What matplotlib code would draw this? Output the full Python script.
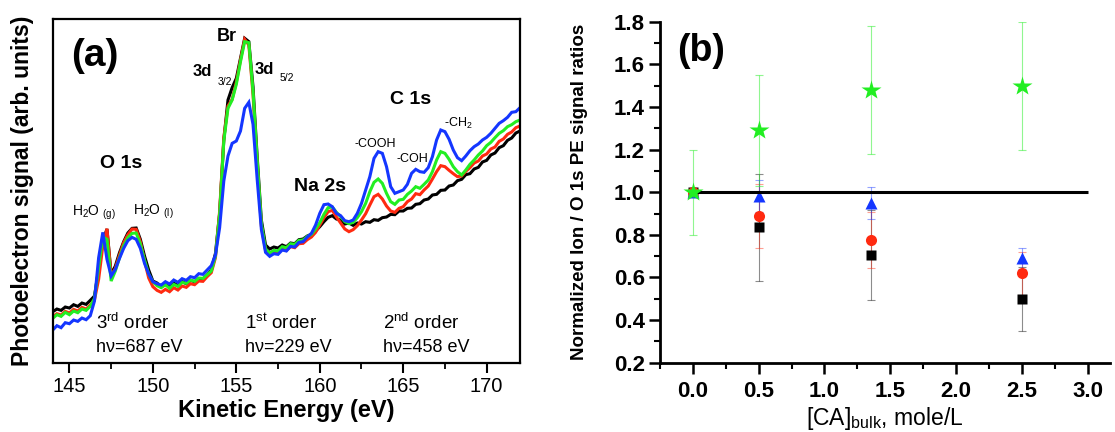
"""
Two-panel figure: (a) photoelectron spectra, (b) normalized ion / O 1s signal ratios.
"""

import numpy as np
import matplotlib
matplotlib.use("Agg")
import matplotlib.pyplot as plt
from matplotlib.ticker import MultipleLocator

plt.rcParams['font.family'] = ['Liberation Sans', 'DejaVu Sans']
plt.rcParams['mathtext.fontset'] = 'custom'
plt.rcParams['mathtext.rm'] = 'Liberation Sans'
plt.rcParams['mathtext.it'] = 'Liberation Sans:italic'
plt.rcParams['mathtext.bf'] = 'Liberation Sans:bold'

# ---------------- panel (a): spectra, sampled every 0.25 eV ----------------
E_START, E_STOP, E_STEP = 144.0, 172.0, 0.25

# one row per eV (144.00, 144.25, 144.50, 144.75), last row is 172.00
sig_black = [
    14.8, 15.6, 15.2, 16.2,  15.9, 16.9, 16.4, 17.4,  17.0, 18.2, 19.5, 27.5,
    36.0, 39.6, 26.0, 28.5,  32.5, 35.8, 38.4, 39.8,  39.9, 36.5, 31.5, 27.3,
    24.0, 23.4, 22.3, 23.0,  22.2, 23.4, 22.6, 23.8,  23.2, 24.2, 23.8, 24.7,
    24.6, 25.8, 27.3, 32.3,  44.3, 66.3, 78.3, 82.0,  84.8, 90.8, 96.8, 95.8,
    82.3, 61.3, 42.3, 34.8,  33.6, 34.2, 33.9, 34.8,  34.3, 35.4, 35.2, 36.4,
    36.6, 37.5, 38.0, 39.0,  40.3, 41.8, 43.1, 43.6,  42.6, 42.3, 41.1, 41.4,
    40.7, 41.4, 41.1, 41.8,  41.6, 42.4, 42.2, 43.0,  43.2, 44.0, 43.9, 45.0,
    45.0, 45.8, 45.9, 47.0,  47.2, 48.3, 48.6, 49.8,  50.0, 51.2, 51.3, 52.5,
    52.8, 54.1, 54.5, 55.9,  56.2, 57.6, 58.1, 59.7,  60.2, 61.8, 62.4, 64.0,
    64.6, 66.2, 66.9, 68.4,  69.0,
]
sig_red = [
    13.3, 14.2, 13.8, 14.9,  14.4, 15.5, 15.0, 16.1,  15.6, 16.8, 18.3, 24.5,
    34.5, 39.7, 25.5, 27.8,  31.8, 35.5, 37.9, 39.6,  39.5, 35.8, 30.0, 24.9,
    22.3, 21.2, 20.6, 21.5,  20.8, 22.0, 21.3, 22.5,  22.1, 23.2, 22.9, 24.0,
    23.9, 25.3, 26.5, 31.0,  45.0, 67.0, 76.5, 78.5,  83.6, 90.3, 96.5, 94.8,
    80.0, 59.0, 40.5, 33.3,  32.3, 32.9, 32.5, 33.6,  33.2, 34.3, 34.0, 35.2,
    35.3, 36.4, 37.2, 38.6,  40.8, 43.0, 44.8, 45.2,  43.2, 41.4, 39.6, 38.8,
    39.4, 40.6, 42.3, 44.2,  46.8, 49.3, 50.0, 48.6,  46.5, 45.0, 44.6, 45.8,
    46.3, 47.8, 48.6, 50.2,  49.9, 51.3, 52.5, 54.6,  56.8, 58.6, 58.3, 57.2,
    56.2, 55.3, 55.5, 56.9,  58.0, 59.4, 60.0, 61.5,  62.1, 63.6, 64.2, 65.9,
    66.6, 68.0, 68.7, 70.0,  70.5,
]
sig_green = [
    12.8, 13.9, 13.4, 14.6,  13.9, 15.0, 14.5, 15.6,  15.2, 16.4, 18.8, 28.0,
    37.3, 36.5, 24.0, 27.0,  31.0, 34.6, 37.0, 38.3,  38.4, 35.1, 30.3, 26.1,
    23.8, 22.6, 22.0, 22.9,  21.8, 23.0, 22.4, 23.6,  23.3, 24.3, 23.9, 24.9,
    24.8, 25.9, 27.0, 31.5,  44.0, 66.0, 75.8, 78.3,  83.0, 89.8, 95.8, 95.5,
    81.0, 60.3, 41.3, 33.6,  32.4, 33.2, 33.0, 34.3,  34.0, 35.2, 35.0, 36.2,
    36.3, 37.4, 38.0, 39.6,  41.5, 44.0, 46.0, 46.2,  44.6, 43.3, 41.8, 41.2,
    41.6, 43.0, 44.8, 47.3,  50.8, 53.6, 54.6, 53.3,  50.3, 47.8, 47.0, 48.3,
    48.5, 50.0, 51.0, 52.3,  51.8, 53.0, 54.3, 56.8,  60.3, 62.8, 62.3, 60.5,
    58.3, 56.8, 55.8, 57.3,  59.0, 60.3, 61.8, 63.0,  64.6, 65.6, 67.0, 68.3,
    69.1, 70.3, 70.9, 71.8,  72.3,
]
sig_blue = [
    9.3, 10.6, 10.0, 11.5,   11.2, 12.3, 11.9, 12.9,  12.4, 13.6, 18.0, 31.0,
    38.6, 30.5, 25.5, 27.5,  30.8, 33.8, 36.1, 37.1,  36.5, 33.8, 29.3, 26.1,
    23.8, 23.2, 22.8, 23.8,  23.1, 24.3, 23.6, 24.7,  24.2, 25.3, 25.0, 26.2,
    26.0, 27.3, 28.6, 31.8,  40.0, 54.0, 61.5, 65.3,  66.0, 69.0, 75.8, 77.6,
    71.0, 54.5, 39.5, 32.6,  31.4, 32.2, 32.0, 33.3,  33.0, 34.4, 34.2, 35.6,
    35.8, 37.2, 38.3, 40.8,  44.3, 46.9, 47.1, 46.3,  44.3, 43.6, 42.1, 41.8,
    42.3, 44.3, 47.3, 51.3,  55.3, 60.8, 62.8, 62.3,  58.3, 52.3, 50.3, 50.8,
    51.3, 53.0, 56.3, 57.5,  56.8, 56.6, 58.0, 61.3,  66.3, 69.3, 68.8, 66.5,
    63.3, 61.0, 60.1, 61.5,  63.1, 64.3, 65.1, 66.3,  67.1, 68.3, 69.8, 71.3,
    72.1, 73.1, 74.6, 74.8,  76.0,
]

# ---------------- panel (b): signal ratios vs bulk concentration ----------------
conc = [0.0, 0.5, 1.35, 2.5]
ratio_square = [1.0, 0.835, 0.705, 0.50]
err_square = [0.0, 0.25, 0.21, 0.15]
ratio_circle = [1.0, 0.89, 0.775, 0.62]
err_circle = [0.0, 0.15, 0.13, 0.10]
ratio_triangle = [1.0, 0.98, 0.95, 0.69]
err_triangle = [0.0, 0.075, 0.075, 0.05]
ratio_star = [1.0, 1.29, 1.48, 1.50]
err_star = [0.2, 0.26, 0.30, 0.30]
REF_LEVEL = 1.0
REF_END = 3.0

BLACK = '#000000'
RED = '#ff2a10'
GREEN = '#22ee22'
BLUE = '#1436ff'


def draw_spectra(ax):
    energy = np.arange(E_START, E_STOP + E_STEP / 2, E_STEP)
    for sig, col in [(sig_black, BLACK), (sig_red, RED),
                     (sig_green, GREEN), (sig_blue, BLUE)]:
        ax.plot(energy, sig, color=col, lw=2.2, solid_joinstyle='miter')

    ax.set_xlim(144, 172)
    ax.set_ylim(-0.5, 102.5)
    ax.xaxis.set_major_locator(MultipleLocator(5))
    ax.xaxis.set_minor_locator(MultipleLocator(2.5))
    ax.set_yticks([])
    ax.tick_params(axis='x', which='major', direction='out', length=7,
                   width=1.5, labelsize=14.5, pad=3)
    ax.tick_params(axis='x', which='minor', direction='out', length=4, width=1.3)
    for sp in ax.spines.values():
        sp.set_linewidth(1.6)

    ax.set_xlabel('Kinetic Energy (eV)', fontsize=17, fontweight='bold')
    ax.xaxis.set_label_coords(0.5, -0.105)
    ax.set_ylabel('Photoelectron signal (arb. units)', fontsize=16.5,
                  fontweight='bold')
    ax.yaxis.set_label_coords(-0.04, 0.5)

    # peak labels
    ax.text(146.5, 91.5, '(a)', fontsize=28, fontweight='bold',
            ha='center', va='center')
    ax.text(154.4, 97.4, 'Br', fontsize=13, fontweight='bold',
            ha='center', va='center')
    ax.text(152.95, 86.8, '3d', fontsize=12, fontweight='bold',
            ha='center', va='center')
    ax.text(154.3, 83.8, '3/2', fontsize=7.5, ha='center', va='center')
    ax.text(156.7, 87.3, '3d', fontsize=12, fontweight='bold',
            ha='center', va='center')
    ax.text(158.05, 84.9, '5/2', fontsize=7.5, ha='center', va='center')
    ax.text(148.1, 59.3, 'O 1s', fontsize=14, fontweight='bold',
            ha='center', va='center')
    ax.text(145.15, 44.3, r'H$_{\rm 2}$O$\ _{\rm (g)}$', fontsize=10,
            ha='left', va='center')
    ax.text(148.8, 44.7, r'H$_{\rm 2}$O$\ _{\rm (l)}$', fontsize=10,
            ha='left', va='center')
    ax.text(160.0, 52.3, 'Na 2s', fontsize=14, fontweight='bold',
            ha='center', va='center')
    ax.text(165.45, 78.3, 'C 1s', fontsize=14, fontweight='bold',
            ha='center', va='center')
    ax.text(163.3, 65.1, '-COOH', fontsize=9, ha='center', va='center')
    ax.text(165.55, 60.5, '-COH', fontsize=9, ha='center', va='center')
    ax.text(167.45, 71.3, r'-CH$_{\rm 2}$', fontsize=9, ha='left', va='center')

    # photon energy / diffraction order notes
    for left, order, hv in [(146.6, r'3$^{\rm rd}$ order', 'hν=687 eV'),
                            (155.5, r'1$^{\rm st}$ order', 'hν=229 eV'),
                            (163.8, r'2$^{\rm nd}$ order', 'hν=458 eV')]:
        ax.text(left, 11.4, order, fontsize=13.5, ha='left', va='center')
        ax.text(left, 4.0, hv, fontsize=13, ha='left', va='center')


def draw_ratios(ax):
    series = [
        (ratio_square, err_square, 's', BLACK, 6.5),
        (ratio_circle, err_circle, 'o', RED, 8),
        (ratio_triangle, err_triangle, '^', BLUE, 8.5),
    ]
    for vals, errs, mk, col, ms in series:
        eb = ax.errorbar(conc, vals, yerr=errs, fmt=mk, color=col, ms=ms,
                         ecolor=col, elinewidth=0.8, capsize=3, capthick=0.8,
                         zorder=3, mec='none')
        # fade the bars like the original
        eb[2][0].set_alpha(0.45)
        for cap in eb[1]:
            cap.set_alpha(0.45)

    ax.hlines(REF_LEVEL, 0.0, REF_END, color='black', lw=2.2, zorder=4)

    eb = ax.errorbar(conc, ratio_star, yerr=err_star, fmt='*', color=GREEN,
                     ms=15, ecolor=GREEN, elinewidth=0.8, capsize=3,
                     capthick=0.8, zorder=5, mec='none')
    eb[2][0].set_alpha(0.5)
    for cap in eb[1]:
        cap.set_alpha(0.5)

    ax.set_xlim(-0.25, 3.17)
    ax.set_ylim(0.2, 1.8)
    ax.xaxis.set_major_locator(MultipleLocator(0.5))
    ax.xaxis.set_minor_locator(MultipleLocator(0.25))
    ax.yaxis.set_major_locator(MultipleLocator(0.2))
    ax.yaxis.set_minor_locator(MultipleLocator(0.1))
    ax.spines['top'].set_visible(False)
    ax.spines['right'].set_visible(False)
    for sp in ('left', 'bottom'):
        ax.spines[sp].set_linewidth(2)
    ax.tick_params(which='major', direction='out', length=8, width=1.8,
                   labelsize=16)
    ax.tick_params(axis='x', which='major', pad=5)
    ax.tick_params(axis='y', which='major', pad=3)
    ax.tick_params(which='minor', direction='out', length=4, width=1.5)
    for lab in ax.get_xticklabels() + ax.get_yticklabels():
        lab.set_fontweight('bold')

    ax.set_xlabel(r'[CA]$_{\rm bulk}$, mole/L', fontsize=16.5)
    ax.xaxis.set_label_coords(0.5, -0.125)
    ax.set_ylabel('Normalized Ion / O 1s PE signal ratios', fontsize=13.5,
                  fontweight='bold')
    ax.yaxis.set_label_coords(-0.16, 0.5)

    ax.text(0.062, 1.662, '(b)', fontsize=27, fontweight='bold',
            ha='center', va='center')


def main():
    fig = plt.figure(figsize=(11.15, 4.32), dpi=100)
    ax_a = fig.add_axes([0.0473, 0.1604, 0.4191, 0.7949])
    ax_b = fig.add_axes([0.5919, 0.1604, 0.4036, 0.7894])
    draw_spectra(ax_a)
    draw_ratios(ax_b)
    fig.savefig('out.png', dpi=100, facecolor='white')


if __name__ == "__main__":
    main()
